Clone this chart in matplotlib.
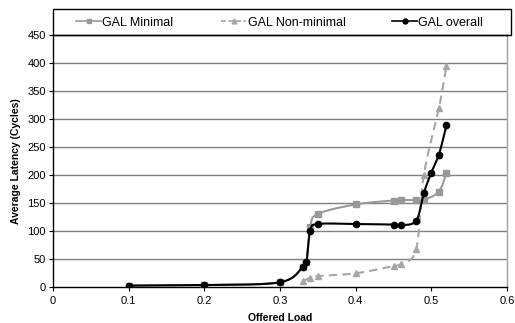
import numpy as np
import matplotlib
matplotlib.use("Agg")
import matplotlib.pyplot as plt
from matplotlib.patches import Rectangle
from matplotlib.lines import Line2D

plt.rcParams['font.family'] = ['Liberation Sans', 'DejaVu Sans']

# Data
min_x = [0.1, 0.2, 0.3, 0.33, 0.335, 0.34, 0.35, 0.4, 0.45, 0.46, 0.48, 0.49, 0.51, 0.52]
min_y = [3, 4, 9, 36, 46, 108, 131, 148, 155, 156, 156, 156, 171, 205]
non_x = [0.33, 0.34, 0.35, 0.4, 0.45, 0.46, 0.48, 0.49, 0.51, 0.52]
non_y = [11, 17, 20, 25, 38, 42, 68, 200, 320, 395]
all_x = [0.1, 0.2, 0.3, 0.33, 0.335, 0.34, 0.35, 0.4, 0.45, 0.46, 0.48, 0.49, 0.5, 0.51, 0.52]
all_y = [3, 4, 9, 36, 46, 101, 113, 113, 112, 111, 119, 168, 205, 237, 289]

names = ["GAL Minimal", "GAL Non-minimal", "GAL overall"]
x_ticks = [0, 0.1, 0.2, 0.3, 0.4, 0.5, 0.6]
y_ticks = list(range(0, 451, 50))

W, H = 515, 323
fig = plt.figure(figsize=(W / 100, H / 100), dpi=100)
L, R, T, B = 53, 507, 35.3, 287.3
ax = fig.add_axes([L / W, 1 - B / H, (R - L) / W, (B - T) / H])
ax.set_xlim(0, 0.6)
ax.set_ylim(0, 450)

sx = (R - L) / 0.6
sy = (B - T) / 450.0


def smooth(xs, ys, n=20):
    P = np.column_stack([np.array(xs) * sx, np.array(ys) * sy])
    out = [P[0]]
    for i in range(len(P) - 1):
        p0 = P[i - 1] if i > 0 else P[i]
        p1 = P[i]
        p2 = P[i + 1]
        p3 = P[i + 2] if i + 2 < len(P) else P[i + 1]
        c1 = p1 + (p2 - p0) / 6.0
        c2 = p2 - (p3 - p1) / 6.0
        t = np.linspace(0, 1, n)[1:, None]
        seg = ((1 - t) ** 3) * p1 + 3 * ((1 - t) ** 2) * t * c1 + 3 * (1 - t) * t ** 2 * c2 + t ** 3 * p2
        out.extend(seg)
    out = np.array(out)
    return out[:, 0] / sx, out[:, 1] / sy


for yv in y_ticks[1:-1]:
    ax.axhline(yv, color='#7f7f7f', lw=1.0, zorder=1)

c_min = '#999999'
c_non = '#a6a6a6'
c_all = '#000000'

xs, ys = smooth(min_x, min_y)
ax.plot(xs, ys, color=c_min, lw=1.5, zorder=3)
ax.plot(min_x, min_y, ls='none', marker='s', ms=4.5, color=c_min, zorder=3)

xs, ys = smooth(non_x, non_y)
ax.plot(xs, ys, color=c_non, lw=1.5, ls=(0, (4, 2.5)), zorder=2)
ax.plot(non_x, non_y, ls='none', marker='^', ms=4.5, color=c_non, zorder=2)

xs, ys = smooth(all_x, all_y)
ax.plot(xs, ys, color=c_all, lw=1.5, zorder=4)
ax.plot(all_x, all_y, ls='none', marker='o', ms=4.5, color=c_all, zorder=4)

ax.set_xticks(x_ticks)
ax.set_xticklabels([f"{v:g}" for v in x_ticks])
ax.set_yticks(y_ticks)
ax.tick_params(axis='both', labelsize=8, length=3, width=0.8, colors='black', pad=3)
ax.tick_params(axis='y', pad=2)
for s in ['left', 'bottom', 'top']:
    ax.spines[s].set_color('black')
    ax.spines[s].set_linewidth(1.0)
ax.spines['right'].set_color('#a0a0a0')
ax.spines['right'].set_linewidth(1.0)

ax.set_xlabel("Offered Load", fontsize=7.5, fontweight='bold', labelpad=5)
ax.set_ylabel("Average Latency (Cycles)", fontsize=7.5, fontweight='bold', labelpad=5)

# legend box above plot area
fig.patches.append(Rectangle((L / W, 1 - T / H), (511 - L) / W, (T - 9) / H,
                             transform=fig.transFigure, fill=False, edgecolor='black', lw=1.0))
handles = [
    Line2D([], [], color=c_min, lw=1.2, marker='s', ms=3.5),
    Line2D([], [], color=c_non, lw=1.2, ls=(0, (3, 1.5)), marker='^', ms=3.5),
    Line2D([], [], color=c_all, lw=1.2, marker='o', ms=3.5),
]
starts = [76, 221, 392]
for h, n, xs0 in zip(handles, names, starts):
    fig.legend([h], [n], loc='center left', bbox_to_anchor=(xs0 / W, 1 - 22.5 / H),
               frameon=False, fontsize=9, handlelength=2.0, handletextpad=0.12,
               borderpad=0, borderaxespad=0)

fig.savefig("out.png", dpi=100)
